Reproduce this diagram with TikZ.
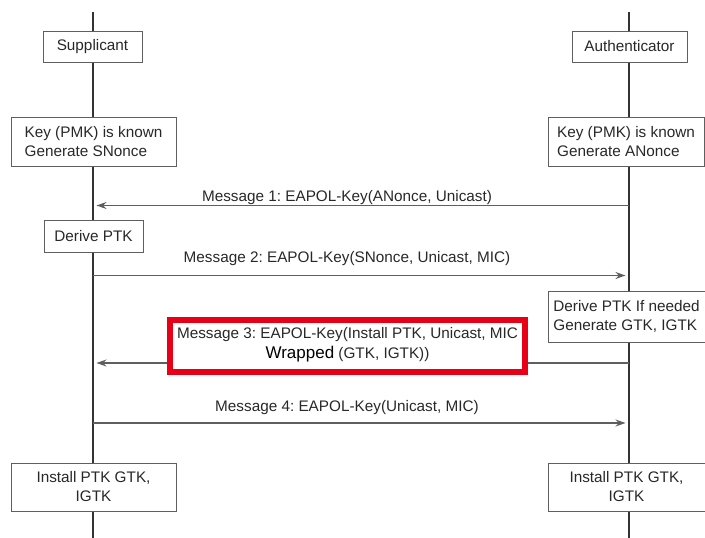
\documentclass[tikz,border=0pt]{standalone}
\usepackage{fontspec}
\setmainfont{Liberation Sans}
\usepackage{tikz}
\usetikzlibrary{positioning, arrows.meta}
\definecolor{linegray}{RGB}{95,95,95}
\definecolor{textgray}{RGB}{40,40,40}
\definecolor{alertred}{RGB}{232,0,22}
\frenchspacing

\begin{document}
\begin{tikzpicture}[x=1pt,y=-1pt,>={Stealth[length=10pt,width=7pt]},
    font=\fontsize{15.3}{19}\selectfont,
    life/.style={draw=black!80,line width=1.8pt},
    box/.style={draw=linegray,fill=white,line width=1pt,text=textgray,inner sep=0pt},
    msg/.style={->,draw=linegray,line width=1.3pt,shorten >=3.5pt},
    lbl/.style={text=textgray,inner sep=0pt,xshift=-14pt},
    alertbox/.style={draw=alertred,fill=white,line width=5.5pt,minimum width=355pt,minimum height=52pt}]
    \useasboundingbox (0,0) rectangle (705,538);

    % lifelines
    \coordinate (sTop) at (93,12);
    \coordinate (sBot) at (93,538);
    \coordinate (aTop) at (629,12);
    \coordinate (aBot) at (629,538);
    \draw[life] (sTop) -- (sBot);
    \draw[life] (aTop) -- (aBot);

    % the two parties
    \node[box,minimum width=99pt,minimum height=31pt] (sup) at (92.5,46.5) {Supplicant};
    \node[box,minimum width=115pt,minimum height=31pt] (auth) at (629.5,46.5) {Authenticator};

    \node[box,minimum width=165pt,minimum height=49pt,align=left] (keyS) at (93.5,141.5) {Key (PMK) is known\\Generate SNonce};
    \node[box,minimum width=156pt,minimum height=49pt,align=left] (keyA) at (626,141.5) {Key (PMK) is known\\Generate ANonce};

    % message 1
    \coordinate (m1a) at (629,205.5);
    \coordinate (m1s) at (93,205.5);
    \draw[msg] (m1a) -- node[lbl,above=0pt] {Message 1: EAPOL-Key(ANonce, Unicast)} (m1s);

    \node[box,minimum width=99pt,minimum height=32pt] (derS) at (93.5,236) {Derive PTK};

    % message 2
    \coordinate (m2s) at (93,275.5);
    \coordinate (m2a) at (629,275.5);
    \draw[msg] (m2s) -- node[lbl,above=9pt] {Message 2: EAPOL-Key(SNonce, Unicast, MIC)} (m2a);

    \node[box,minimum width=157pt,minimum height=51pt,align=left] (derA) at (626.5,316.5) {Derive PTK If needed\\Generate GTK, IGTK};

    % message 3
    \coordinate (m3a) at (629,363);
    \coordinate (m3s) at (93,363);
    \draw[msg] (m3a) -- (m3s);
    \node[alertbox] (m3box) at (347.5,346) {};
    \node[lbl,xshift=14pt,align=center] (m3text) at ([yshift=1.5pt]m3box.center)
        {Message 3: EAPOL-Key(Install PTK, Unicast, MIC\\[1pt]{\color{black}\fontsize{17}{19}\selectfont Wrapped} (GTK, IGTK))};

    % message 4
    \coordinate (m4s) at (93,423);
    \coordinate (m4a) at (629,423);
    \draw[msg] (m4s) -- node[lbl,above=8pt] {Message 4: EAPOL-Key(Unicast, MIC)} (m4a);

    \node[box,minimum width=165pt,minimum height=48pt,align=center] (instS) at (93.5,487) {Install PTK GTK,\\IGTK};
    \node[box,minimum width=157pt,minimum height=48pt,align=center] (instA) at (626.5,487) {Install PTK GTK,\\IGTK};
\end{tikzpicture}
\end{document}
